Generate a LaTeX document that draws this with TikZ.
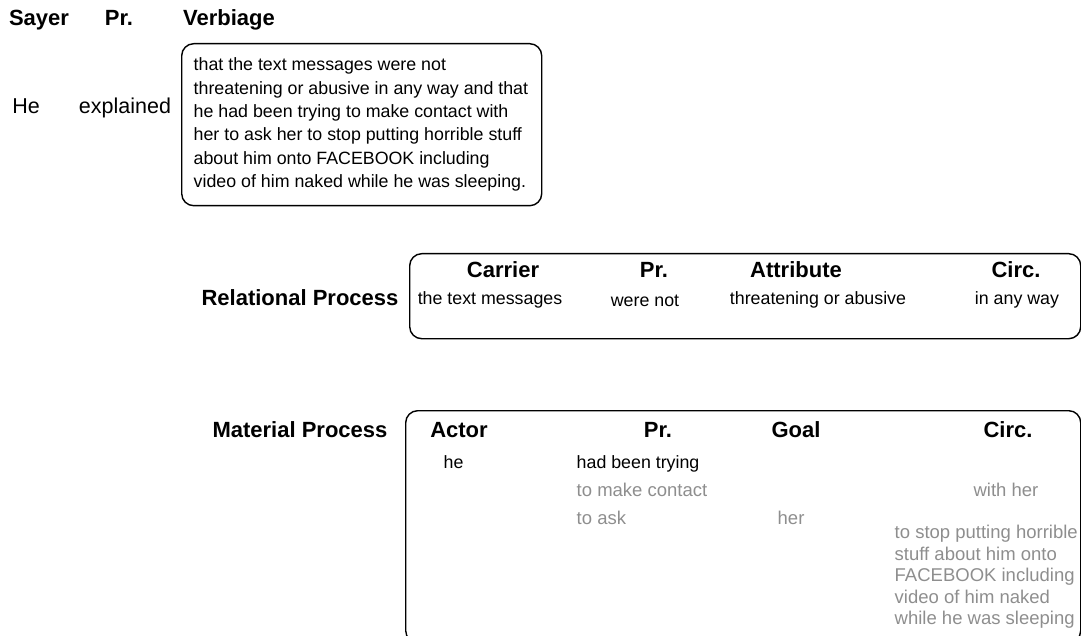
\documentclass[tikz,border=0pt]{standalone}
\usepackage{fontspec}
\setmainfont{Liberation Sans}
\usetikzlibrary{positioning}

\definecolor{softgrey}{HTML}{8E8E8E}

\begin{document}
\begin{tikzpicture}[x=1pt, y=-1pt, line width=1.4pt,
    every node/.style={inner sep=0pt, anchor=base},
    hd/.style={font=\fontsize{22}{26}\selectfont\bfseries},
    big/.style={font=\fontsize{21.5}{25}\selectfont},
    txt/.style={font=\fontsize{17.8}{23.3}\selectfont},
    faint/.style={font=\fontsize{18.5}{21.5}\selectfont, text=softgrey},
    frame/.style={draw, rounded corners=12pt, anchor=north west}]
    %---- canvas (boxes run past the right and lower edge)
    \useasboundingbox (0,0) rectangle (1081,636);
    \clip (0,0) rectangle (1081,636);

    %---- verbal clause
    \node[hd]  (sayer)     at (39,25.5)   {Sayer};
    \node[hd]  (sayerpr)   at (119,25.5)  {Pr.};
    \node[hd]  (verbiage)  at (229,25.5)  {Verbiage};
    \node[big] (he)        at (26,113.5)  {He};
    \node[big] (explained) at (125,113.5) {explained};
    \node[frame, minimum width=360pt, minimum height=162pt] (verbbox) at (181,43) {};
    \node[txt, anchor=west, align=left] (verbtext) at (193,124.5)
      {that the text messages were not\\
       threatening or abusive in any way and that\\
       he had been trying to make contact with\\
       her to ask her to stop putting horrible stuff\\
       about him onto FACEBOOK including\\
       video of him naked while he was sleeping.};

    %---- relational process
    \node[hd] (relproc) at (300,305.5) {Relational Process};
    \node[frame, minimum width=671pt, minimum height=85pt] (relbox) at (409,253) {};
    \node[hd]  (carrier)   at (503,277.5)  {Carrier};
    \node[hd]  (relpr)     at (654,277.5)  {Pr.};
    \node[hd]  (attribute) at (796,277.5)  {Attribute};
    \node[hd]  (relcirc)   at (1016,277.5) {Circ.};
    \node[txt] (msgs)      at (490,305)  {the text messages};
    \node[txt] (werenot)   at (645,306)  {were not};
    \node[txt] (threat)    at (818,305)  {threatening or abusive};
    \node[txt] (anyway)    at (1017,305) {in any way};

    %---- material process
    \node[hd] (matproc) at (300,437.5) {Material Process};
    \node[frame, minimum width=675pt, minimum height=232pt] (matbox) at (405,410) {};
    \node[hd] (actor)   at (459,437.5)  {Actor};
    \node[hd] (matpr)   at (658,437.5)  {Pr.};
    \node[hd] (goal)    at (796,437.5)  {Goal};
    \node[hd] (matcirc) at (1008,437.5) {Circ.};
    \node[txt, anchor=base west]   (hesmall) at (443,468) {he};
    \node[txt, anchor=base west]   (trying)  at (576,468) {had been trying};
    \node[faint, anchor=base west] (contact) at (576,496) {to make contact};
    \node[faint]                   (withher) at (1006,496) {with her};
    \node[faint, anchor=base west] (toask)   at (576,524) {to ask};
    \node[faint, anchor=base west] (her)     at (777,524) {her};
    \node[faint, anchor=north west, align=left] (stuff) at (894,524.5)
      {to stop putting horrible\\
       stuff about him onto\\
       FACEBOOK including\\
       video of him naked\\
       while he was sleeping};
\end{tikzpicture}
\end{document}
